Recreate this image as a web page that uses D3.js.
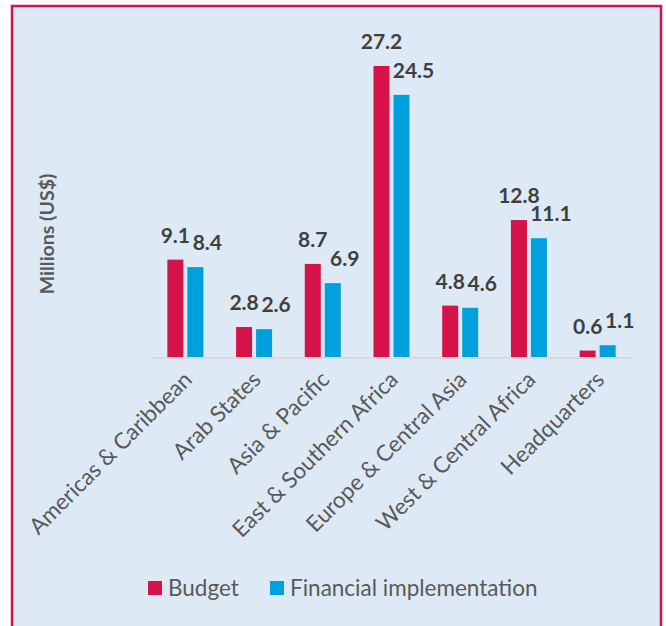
<!DOCTYPE html>
<html>
<head>
<meta charset="utf-8">
<script src="https://cdn.jsdelivr.net/npm/d3@7"></script>
<style>
  html, body { margin: 0; padding: 0; background: #ffffff; }
  svg { display: block; }
</style>
</head>
<body>
<div id="chart"></div>
<script>

// ---- data ----
const regions = ["Americas & Caribbean", "Arab States", "Asia & Pacific", "East & Southern Africa",
                 "Europe & Central Asia", "West & Central Africa", "Headquarters"];
const budget = [9.1, 2.8, 8.7, 27.2, 4.8, 12.8, 0.6];
const implementation = [8.4, 2.6, 6.9, 24.5, 4.6, 11.1, 1.1];
const seriesNames = ["Budget", "Financial implementation"];
const seriesColors = ["#d6124a", "#00a0dc"];

const W = 666, H = 626;
const font = "Lato, 'Open Sans', sans-serif";

const svg = d3.select("#chart").append("svg")
    .attr("width", W).attr("height", H);

// panel background + frame (no bottom edge visible)
svg.append("rect").attr("x", 12).attr("y", 6).attr("width", 649).attr("height", 650)
    .attr("fill", "#dde9f5").attr("stroke", "#d6124a").attr("stroke-width", 2.5);

// ---- scales ----
const x0 = d3.scaleBand().domain(regions).range([151, 632]);
const x1 = d3.scaleBand().domain(seriesNames)
    .range([x0.bandwidth() / 2 - 18, x0.bandwidth() / 2 + 18]).paddingInner(0.2);
const y = d3.scaleLinear().domain([0, 30]).range([357, 36]);

const rows = regions.map((r, i) => ({ region: r, values: [budget[i], implementation[i]] }));

// baseline
svg.append("line")
    .attr("x1", x0.range()[0]).attr("x2", x0.range()[1])
    .attr("y1", y(0) + 1).attr("y2", y(0) + 1)
    .attr("stroke", "#d9d9d9").attr("stroke-width", 2);

const group = svg.selectAll(".grp").data(rows).enter().append("g")
    .attr("class", "grp")
    .attr("transform", d => `translate(${x0(d.region)},0)`);

group.selectAll("rect").data(d => d.values.map((v, k) => ({ v, k })))
    .enter().append("rect")
    .attr("x", d => x1(seriesNames[d.k]))
    .attr("width", x1.bandwidth())
    .attr("y", d => y(d.v))
    .attr("height", d => y(0) - y(d.v))
    .attr("fill", d => seriesColors[d.k]);

// value labels (implementation labels sit a little to the right, as in the original)
group.selectAll("text.val").data(d => d.values.map((v, k) => ({ v, k })))
    .enter().append("text")
    .attr("class", "val")
    .attr("x", d => x1(seriesNames[d.k]) + x1.bandwidth() / 2 + (d.k === 1 ? 12 : 0))
    .attr("y", d => y(d.v) - 17)
    .attr("text-anchor", "middle")
    .style("font-family", font).style("font-weight", "bold")
    .style("font-size", "21px").style("fill", "#404040")
    .text(d => d.v.toFixed(1));

// category labels, rotated
svg.selectAll("text.cat").data(regions).enter().append("text")
    .attr("class", "cat")
    .attr("transform", d => `translate(${x0(d) + x0.bandwidth() / 2 + 8},${y(0) + 24}) rotate(-45)`)
    .attr("text-anchor", "end")
    .style("font-family", font).style("font-size", "22.5px").style("fill", "#595959")
    .text(d => d);

// y axis title
svg.append("text")
    .attr("transform", `translate(54,234) rotate(-90)`)
    .attr("text-anchor", "middle")
    .style("font-family", font).style("font-weight", "bold")
    .style("font-size", "19.5px").style("fill", "#595959")
    .text("Millions (US$)");

// legend
const legendX = [148, 270];
const legend = svg.selectAll(".leg").data(seriesNames).enter().append("g")
    .attr("class", "leg")
    .attr("transform", (d, i) => `translate(${legendX[i]},581)`);
legend.append("rect").attr("width", 14).attr("height", 14).attr("fill", (d, i) => seriesColors[i]);
legend.append("text").attr("x", 20).attr("y", 15)
    .style("font-family", font).style("font-size", "22.5px").style("fill", "#595959")
    .text(d => d);

</script>
</body>
</html>
